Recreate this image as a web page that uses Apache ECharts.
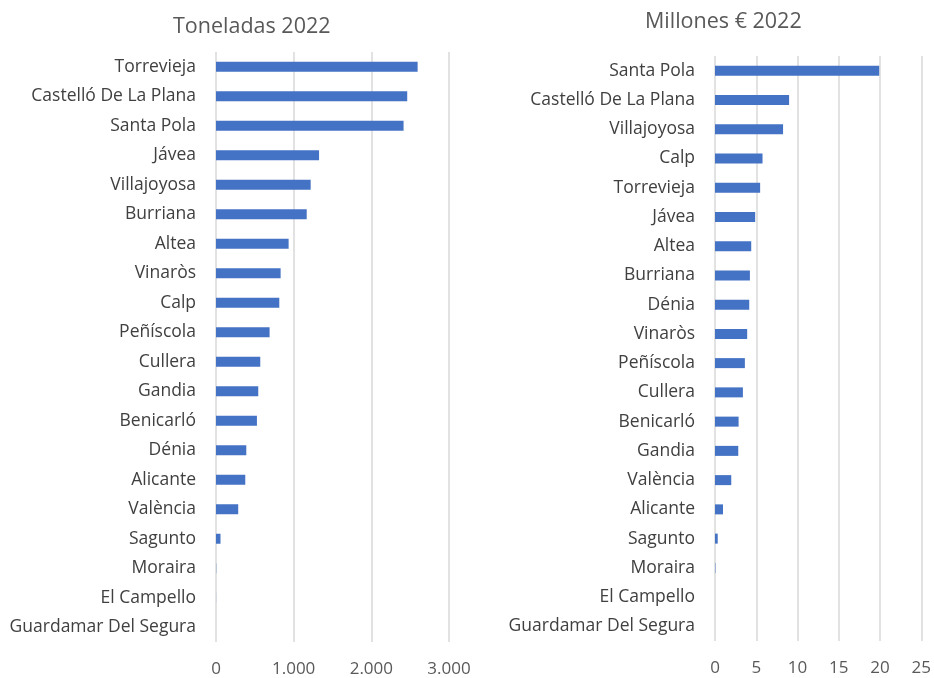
<!DOCTYPE html>
<html>
<head>
    <meta charset="utf-8">
    <script src="https://cdn.jsdelivr.net/npm/echarts@6/dist/echarts.min.js"></script>
</head>
<body style="margin:0">
    <div id="main" style="width: 934px;height:678px;"></div>
	<script type="text/javascript">
	// Toneladas 2022
	var puertosTon = ['Torrevieja','Castelló De La Plana','Santa Pola','Jávea','Villajoyosa','Burriana','Altea','Vinaròs','Calp','Peñíscola','Cullera','Gandia','Benicarló','Dénia','Alicante','València','Sagunto','Moraira','El Campello','Guardamar Del Segura'];
	var toneladas = [2596, 2462, 2415, 1327, 1219, 1168, 935, 832, 815, 690, 570, 544, 527, 390, 377, 286, 58, 3, 1, 0];

	// Millones € 2022
	var puertosEur = ['Santa Pola','Castelló De La Plana','Villajoyosa','Calp','Torrevieja','Jávea','Altea','Burriana','Dénia','Vinaròs','Peñíscola','Cullera','Benicarló','Gandia','València','Alicante','Sagunto','Moraira','El Campello','Guardamar Del Segura'];
	var millones = [19.9, 8.98, 8.25, 5.76, 5.47, 4.87, 4.39, 4.23, 4.15, 3.9, 3.62, 3.38, 2.86, 2.82, 1.97, 0.97, 0.33, 0.05, 0, 0];

	var fuente = '"Open Sans", sans-serif';
	var azul = '#4472C4';

	function ejeCat(idx, datos) {
		return {
			type: 'category', gridIndex: idx, data: datos, inverse: true,
			axisLine: {show: false}, axisTick: {show: false},
			axisLabel: {color: '#404040', fontSize: 17.5, fontFamily: fuente, margin: 20}
		};
	}
	function ejeVal(idx, max, step, fmt) {
		return {
			type: 'value', gridIndex: idx, min: 0, max: max, interval: step,
			axisLine: {show: false}, axisTick: {show: false},
			splitLine: {lineStyle: {color: '#d9d9d9', width: 1.5}},
			axisLabel: {color: '#595959', fontSize: 17, fontFamily: fuente, margin: 19, formatter: fmt}
		};
	}

	myChart = echarts.init(document.getElementById('main'));
	myChart.setOption(option = {
		animation: false,
		title: [
			{text: 'Toneladas 2022', left: 168, top: 11,
			 textStyle: {color: '#595959', fontSize: 21.5, fontWeight: 'normal', fontFamily: fuente}},
			{text: 'Millones € 2022', left: 640, top: 6,
			 textStyle: {color: '#595959', fontSize: 21.5, fontWeight: 'normal', fontFamily: fuente}}
		],
		grid: [
			{left: 216, top: 52, width: 233, height: 592},
			{left: 715, top: 56, width: 207, height: 585}
		],
		xAxis: [
			ejeVal(0, 3000, 1000, function (v) { return v === 0 ? '0' : (v / 1000) + '.000'; }),
			ejeVal(1, 25, 5)
		],
		yAxis: [ejeCat(0, puertosTon), ejeCat(1, puertosEur)],
		series: [
			{type: 'bar', xAxisIndex: 0, yAxisIndex: 0, data: toneladas, barWidth: 10,
			 itemStyle: {color: azul}},
			{type: 'bar', xAxisIndex: 1, yAxisIndex: 1, data: millones, barWidth: 10,
			 itemStyle: {color: azul}}
		]
	});
	</script>
</body>
</html>
